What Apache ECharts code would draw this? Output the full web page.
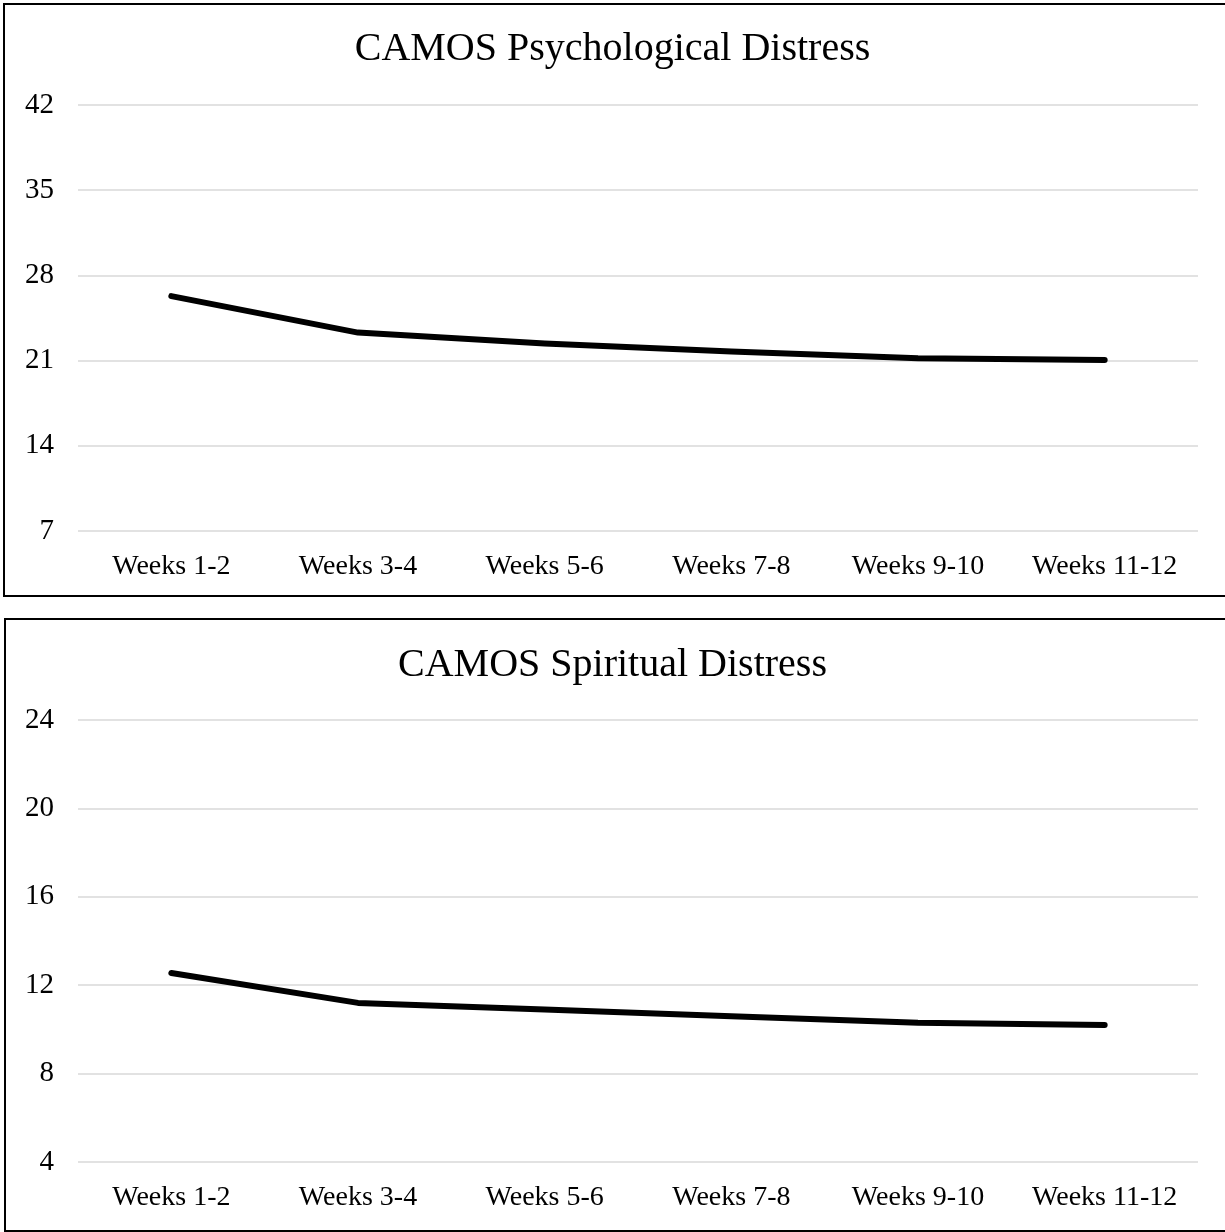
<!DOCTYPE html>
<html>
<head>
<meta charset="utf-8">
<script src="https://cdn.jsdelivr.net/npm/echarts@6/dist/echarts.min.js"></script>
<style>
html,body{margin:0;padding:0;background:#fff;}
#chart{width:1225px;height:1232px;}
</style>
</head>
<body>
<div id="chart"></div>
<script>
const categories = ['Weeks 1-2', 'Weeks 3-4', 'Weeks 5-6', 'Weeks 7-8', 'Weeks 9-10', 'Weeks 11-12'];
const psychTitle = 'CAMOS Psychological Distress';
const psychValues = [26.3, 23.3, 22.4, 21.75, 21.2, 21.05];
const psychTicks = { min: 7, max: 42, interval: 7 };
const spiritTitle = 'CAMOS Spiritual Distress';
const spiritValues = [12.55, 11.2, 10.9, 10.6, 10.3, 10.2];
const spiritTicks = { min: 4, max: 24, interval: 4 };

const FONT = '"Liberation Serif", "Times New Roman", serif';
const chart = echarts.init(document.getElementById('chart'), null, { renderer: 'canvas' });

function xAxis(gridIndex) {
  return {
    type: 'category', gridIndex, data: categories, boundaryGap: true,
    axisLine: { show: false }, axisTick: { show: false },
    axisLabel: { interval: 0, color: '#000', fontFamily: FONT, fontSize: 28, margin: 22 }
  };
}
function yAxis(gridIndex, t) {
  return {
    type: 'value', gridIndex, min: t.min, max: t.max, interval: t.interval,
    axisLine: { show: false }, axisTick: { show: false },
    axisLabel: { color: '#000', fontFamily: FONT, fontSize: 29, margin: 24 },
    splitLine: { lineStyle: { color: '#d9d9d9', width: 1.5 } }
  };
}
function lineSeries(idx, data) {
  return {
    type: 'line', xAxisIndex: idx, yAxisIndex: idx, data,
    symbol: 'none', smooth: false,
    lineStyle: { color: '#000', width: 6, cap: 'round', join: 'round' },
    itemStyle: { color: '#000' }
  };
}

chart.setOption({
  backgroundColor: '#fff',
  animation: false,
  title: [
    { text: psychTitle, left: 'center', top: 24, textStyle: { fontFamily: FONT, fontSize: 40, fontWeight: 'normal', color: '#000' } },
    { text: spiritTitle, left: 'center', top: 640, textStyle: { fontFamily: FONT, fontSize: 40, fontWeight: 'normal', color: '#000' } }
  ],
  grid: [
    { left: 78, right: 27, top: 105, height: 426 },
    { left: 78, right: 27, top: 720, height: 442 }
  ],
  xAxis: [xAxis(0), xAxis(1)],
  yAxis: [yAxis(0, psychTicks), yAxis(1, spiritTicks)],
  series: [lineSeries(0, psychValues), lineSeries(1, spiritValues)],
  graphic: [
    { type: 'rect', shape: { x: 4, y: 4, width: 1240, height: 592 }, style: { fill: 'none', stroke: '#000', lineWidth: 2 }, silent: true },
    { type: 'rect', shape: { x: 5, y: 619, width: 1240, height: 612 }, style: { fill: 'none', stroke: '#000', lineWidth: 2 }, silent: true }
  ]
});
</script>
</body>
</html>
